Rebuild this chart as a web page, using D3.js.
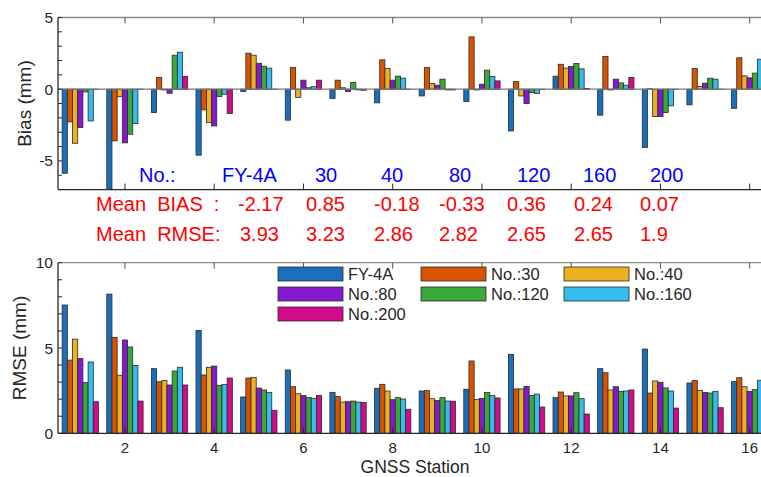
<!DOCTYPE html>
<html><head><meta charset="utf-8">
<script src="https://cdn.jsdelivr.net/npm/d3@7"></script>
<style>
body{margin:0;background:#fff;}
svg{display:block;font-family:"Liberation Sans",Arial,Helvetica,sans-serif;}
</style>
</head><body>
<svg id="c" width="761" height="477"></svg>
<script>
// ---------------- data ----------------
const stations = d3.range(1, 17);
const seriesNames = ["FY-4A", "No.:30", "No.:40", "No.:80", "No.:120", "No.:160", "No.:200"];
const seriesColors = ["#1a6fbd", "#da5400", "#edb120", "#8519d2", "#3ca83a", "#34bdee", "#d30a8a"];

const biasFY4A  = [-5.86,-7.1,-1.63,-4.6,-0.16,-2.16,-0.65,-0.95,-0.47,-0.86,-2.91,0.91,-1.81,-4.07,-1.09,-1.33];
const bias30    = [-2.28,-3.6,0.81,-1.44,2.51,1.51,0.63,2.05,1.51,3.65,0.53,1.74,2.28,0.03,1.44,2.19];
const bias40    = [-3.77,-0.51,-0.05,-2.33,2.37,-0.58,0.1,1.44,0.4,-0.05,-0.47,1.47,-0.05,-1.91,0.19,0.93];
const bias80    = [-2.67,-3.74,-0.28,-2.56,1.81,0.63,-0.16,0.63,0.28,0.35,-1.0,1.58,0.7,-1.91,0.42,0.79];
const bias120   = [-0.19,-3.14,2.37,-0.51,1.6,0.1,0.47,0.91,0.7,1.33,-0.23,1.79,0.44,-1.63,0.77,1.12];
const bias160   = [-2.21,-2.4,2.58,-0.35,1.47,0.18,-0.05,0.77,-0.05,0.88,-0.3,1.42,0.28,-1.16,0.7,2.09];
const bias200   = [-0.02,0,0.88,-1.7,0,0.63,-0.07,0,-0.05,0.58,-0.02,0.05,0.81,-0.02,0,0.03];

const rmseFY4A  = [7.52,8.16,3.79,6.03,2.13,3.71,2.4,2.64,2.48,2.58,4.63,2.09,3.79,4.94,2.95,3.03];
const rmse30    = [4.29,5.62,3.02,3.42,3.24,2.73,2.15,2.87,2.5,4.24,2.6,2.42,3.55,2.36,3.09,3.26];
const rmse40    = [5.52,3.4,3.1,3.87,3.28,2.32,1.83,2.48,2.03,1.99,2.6,2.19,2.54,3.07,2.52,2.73];
const rmse80    = [4.39,5.47,2.83,3.94,2.65,2.22,1.85,1.97,1.93,2.05,2.75,2.19,2.73,2.99,2.4,2.46];
const rmse120   = [2.97,5.06,3.65,2.81,2.54,2.09,1.89,2.09,2.09,2.4,2.21,2.38,2.46,2.66,2.36,2.56];
const rmse160   = [4.18,3.98,3.87,2.87,2.4,2.05,1.83,2.01,1.89,2.21,2.3,2.03,2.48,2.48,2.46,3.11];
const rmse200   = [1.85,1.89,2.83,3.24,1.35,2.22,1.8,1.41,1.88,2.07,1.54,1.13,2.54,1.48,1.5,1.7];

const noLabels  = ["No.:", "FY-4A", "30", "40", "80", "120", "160", "200"];
const meanBias  = ["-2.17", "0.85", "-0.18", "-0.33", "0.36", "0.24", "0.07"];
const meanRmse  = ["3.93", "3.23", "2.86", "2.82", "2.65", "2.65", "1.9"];

const xTicks = [2, 4, 6, 8, 10, 12, 14, 16];
const biasTickLabels = [-5, 0, 5];
const rmseTickLabels = [0, 5, 10];

const biasSeries = [biasFY4A, bias30, bias40, bias80, bias120, bias160, bias200];
const rmseSeries = [rmseFY4A, rmse30, rmse40, rmse80, rmse120, rmse160, rmse200];

// ---------------- layout ----------------
const svg = d3.select("#c");
const X0 = 58, X1 = 772;
const x = d3.scaleLinear().domain([0.5, 16.5]).range([X0, X1]);
const groupW = 0.814 * (x(2) - x(1));
const inner = d3.scaleBand().domain(d3.range(7)).range([-groupW / 2, groupW / 2]).padding(0);

const AX = "#262626", GR = "#8a8a8a";

function panel(id, series, yDomain, top, bottom, majorTicks, ylabel, ylabelX, showXLabels) {
  const y = d3.scaleLinear().domain(yDomain).range([bottom, top]);
  const g = svg.append("g");
  g.append("clipPath").attr("id", id).append("rect")
    .attr("x", X0).attr("y", top).attr("width", X1 - X0).attr("height", bottom - top);
  const bars = g.append("g").attr("clip-path", `url(#${id})`);
  series.forEach((vals, si) => {
    bars.selectAll(null).data(stations).enter().append("rect")
      .attr("x", d => x(d) + inner(si))
      .attr("width", inner.bandwidth())
      .attr("y", (d, i) => y(Math.max(0, vals[i])))
      .attr("height", (d, i) => Math.max(0.3, Math.abs(y(vals[i]) - y(0))))
      .attr("fill", seriesColors[si])
      .attr("stroke", "#2a2a2a").attr("stroke-width", 0.8);
  });
  if (yDomain[0] < 0) {
    g.append("line").attr("x1", X0).attr("x2", X1).attr("y1", y(0)).attr("y2", y(0))
      .attr("stroke", "#7a7a7a").attr("stroke-width", 1.2);
  }
  g.append("line").attr("x1", X0).attr("x2", X1).attr("y1", top).attr("y2", top)
    .attr("stroke", GR).attr("stroke-width", 1.3);
  g.append("line").attr("x1", X0).attr("x2", X1).attr("y1", bottom).attr("y2", bottom)
    .attr("stroke", AX).attr("stroke-width", 1.3);
  g.append("line").attr("x1", X0).attr("x2", X0).attr("y1", top).attr("y2", bottom)
    .attr("stroke", AX).attr("stroke-width", 1.3);
  xTicks.forEach(t => {
    g.append("line").attr("x1", x(t)).attr("x2", x(t)).attr("y1", bottom).attr("y2", bottom - 6)
      .attr("stroke", AX).attr("stroke-width", 1);
    g.append("line").attr("x1", x(t)).attr("x2", x(t)).attr("y1", top).attr("y2", top + 6)
      .attr("stroke", "#555").attr("stroke-width", 1);
  });
  const yt = d3.range(Math.ceil(yDomain[0]), yDomain[1] + 0.001, 1);
  yt.forEach(t => {
    g.append("line").attr("x1", X0).attr("x2", X0 + 4).attr("y1", y(t)).attr("y2", y(t))
      .attr("stroke", AX).attr("stroke-width", 1);
  });
  majorTicks.forEach(t => {
    g.append("text").attr("x", X0 - 5).attr("y", y(t)).attr("dy", "0.36em")
      .attr("text-anchor", "end").attr("font-size", 15.5).attr("fill", AX).text(t);
  });
  if (showXLabels) {
    xTicks.forEach(t => {
      g.append("text").attr("x", x(t)).attr("y", bottom + 19.5)
        .attr("text-anchor", "middle").attr("font-size", 15).attr("fill", AX).text(t);
    });
  }
  g.append("text").attr("transform", `translate(${ylabelX},${(top + bottom) / 2}) rotate(-90)`)
    .attr("text-anchor", "middle").attr("font-size", 19).attr("fill", AX).text(ylabel);
  return y;
}

panel("clipTop", biasSeries, [-7, 5], 17.5, 189.6, biasTickLabels, "Bias (mm)", 31, false);
panel("clipBot", rmseSeries, [0, 10], 262.7, 433.3, rmseTickLabels, "RMSE (mm)", 26, true);

svg.append("text").attr("x", (X0 + X1) / 2).attr("y", 473).attr("text-anchor", "middle")
  .attr("font-size", 17.5).attr("fill", AX).text("GNSS Station");

// ---------------- annotations ----------------
const noX = [139, 222, 315, 381, 449, 517, 583, 650];
noLabels.forEach((t, i) => {
  svg.append("text").attr("x", noX[i]).attr("y", 182).attr("font-size", 20)
    .attr("fill", "#0000ff").text(t);
});
const valX = [238, 306, 374, 439, 507, 574, 640];
svg.append("text").attr("x", 96).attr("y", 211).attr("font-size", 20).attr("fill", "#ff0000")
  .style("white-space", "pre").text("Mean  BIAS  :");
meanBias.forEach((t, i) => {
  svg.append("text").attr("x", valX[i]).attr("y", 211).attr("font-size", 20)
    .attr("fill", "#ff0000").text(t);
});
svg.append("text").attr("x", 96).attr("y", 241).attr("font-size", 20).attr("fill", "#ff0000")
  .style("white-space", "pre").text("Mean  RMSE:");
meanRmse.forEach((t, i) => {
  svg.append("text").attr("x", valX[i] + (i === 0 ? 2 : 0)).attr("y", 241).attr("font-size", 20)
    .attr("fill", "#ff0000").text(t);
});

// ---------------- legend ----------------
const legX = [278, 421, 564], legY = [267, 287, 307];
seriesNames.forEach((n, i) => {
  const cx = legX[i % 3], cy = legY[Math.floor(i / 3)];
  svg.append("rect").attr("x", cx).attr("y", cy).attr("width", 65).attr("height", 14)
    .attr("fill", seriesColors[i]).attr("stroke", "#2a2a2a").attr("stroke-width", 0.8);
  svg.append("text").attr("x", cx + 70).attr("y", cy + 13).attr("font-size", 16.5)
    .attr("fill", AX).text(n);
});
</script>
</body></html>
